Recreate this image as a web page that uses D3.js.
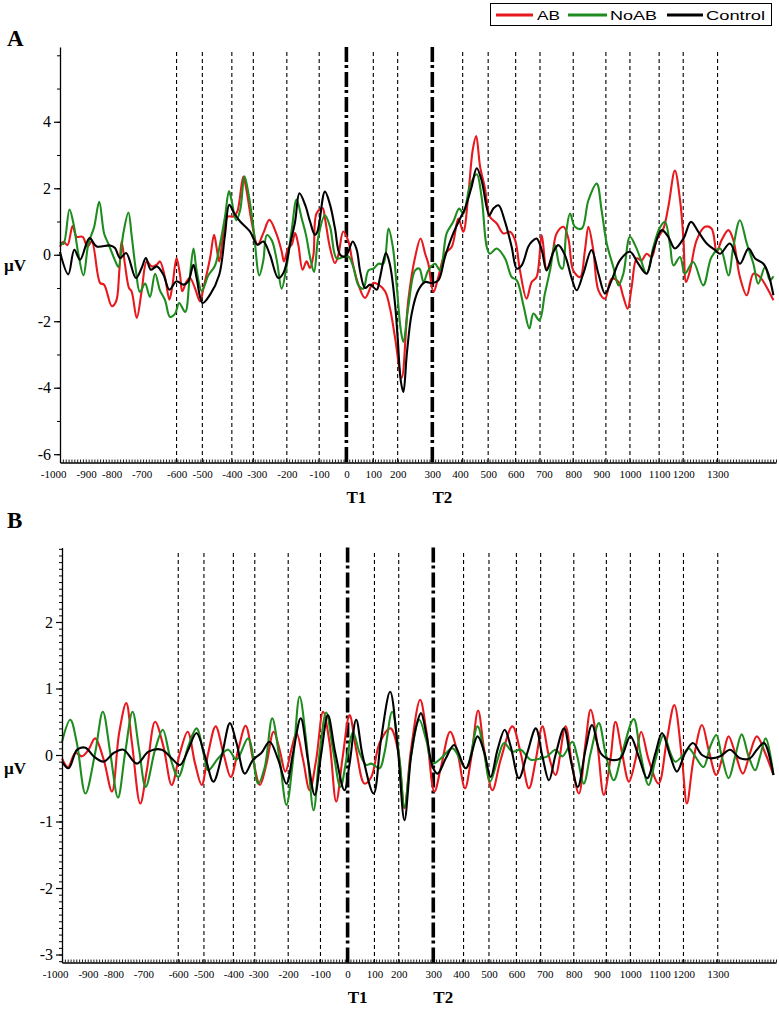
<!DOCTYPE html>
<html><head><meta charset="utf-8">
<script src="https://cdn.jsdelivr.net/npm/d3@7"></script>
<style>
body{margin:0;background:#fff;}
svg{display:block;}
.serif{font-family:"Liberation Serif","Times New Roman",serif;}
.sans{font-family:"Liberation Sans",Arial,sans-serif;}
</style></head>
<body>
<svg id="c" width="779" height="1009"></svg>
<script>
// ---------- DATA ----------
const seriesNames = ["AB", "NoAB", "Control"];
const seriesColors = ["#e8191e", "#1e8c1e", "#000000"];

// x tick labels and where they sit (ms on the linear time axis)
const tickLabels = ["-1000","-900","-800","-700","-600","-500","-400","-300","-200","-100","0","100","200","300","400","500","600","700","800","900","1000","1100","1200","1300"];
const tickPos = [-1024,-909,-820,-715,-593,-504,-400,-313,-208,-95,0,94,179,300,397,495,591,690,792,891,990,1092,1176,1296];
// stimulus markers
const thinLines = [-593,-503,-400,-325,-208,-95,94,179,406,495,591,676,792,906,990,1092,1176,1296];
const targetLines = [0,300];
const targetNames = ["T1","T2"];
const yTicksA = [-6,-4,-2,0,2,4];
const yTicksB = [-3,-2,-1,0,1,2];

// Panel A
const abA = [[-1000,0.24],[-988,0.39],[-974,0.29],[-956,0.86],[-942,0.54],[-921,0.54],[-904,0.24],[-889,0.40],[-860,-0.85],[-846,-0.90],[-819,-1.55],[-804,-1.40],[-793,-0.50],[-785,0.40],[-773,-0.30],[-759,-1.00],[-750,-1.10],[-732,-1.90],[-715,-1.10],[-697,-0.20],[-680,-0.35],[-662,-0.30],[-651,-0.20],[-633,-0.70],[-618,-1.35],[-607,-0.90],[-593,-0.10],[-581,-0.60],[-573,-1.10],[-558,-0.80],[-546,-0.70],[-529,-1.00],[-511,-1.40],[-499,-1.00],[-476,-0.10],[-462,0.60],[-453,0.20],[-444,-0.20],[-430,0.60],[-414,1.15],[-395,1.15],[-381,1.30],[-360,2.35],[-348,1.90],[-331,1.00],[-310,0.30],[-290,0.65],[-269,1.05],[-243,0.60],[-226,0.10],[-218,-0.20],[-203,0.20],[-191,0.30],[-179,0.65],[-168,0.30],[-153,-0.45],[-139,-0.20],[-127,-0.40],[-115,0.00],[-104,1.25],[-83,1.40],[-75,1.10],[-57,0.20],[-40,-0.25],[-28,0.00],[-11,0.70],[7,0.40],[22,-0.25],[42,-0.90],[65,-1.30],[94,-0.85],[112,-0.90],[135,-1.10],[152,-1.60],[170,-2.50],[193,-3.70],[216,-1.37],[240,-0.07],[259,0.49],[275,0.03],[286,-0.27],[304,-1.12],[321,-0.67],[344,0.03],[368,0.24],[391,1.09],[408,0.69],[426,1.84],[441,3.15],[453,3.57],[467,2.64],[484,1.99],[501,1.14],[525,0.94],[548,0.64],[571,0.69],[589,0.44],[606,-0.47],[629,-1.32],[647,-0.82],[664,-0.67],[682,0.59],[699,-0.42],[717,-0.07],[734,0.64],[758,0.84],[775,0.49],[792,-0.47],[816,-0.67],[833,0.14],[845,0.84],[862,0.14],[880,-1.07],[903,-1.32],[926,-0.72],[950,-0.82],[967,-1.27],[982,-1.62],[996,-0.97],[1014,-0.11],[1031,-0.17],[1048,0.03],[1066,-0.07],[1083,0.44],[1107,0.79],[1124,1.44],[1147,2.53],[1165,1.64],[1177,0.44],[1186,-0.82],[1200,-0.47],[1223,0.44],[1252,0.84],[1275,0.79],[1293,0.09],[1310,0.44],[1334,0.74],[1351,0.44],[1374,-0.67],[1398,-1.22],[1421,-0.57],[1444,-0.67],[1467,-0.97],[1491,-1.37]];
const noabA = [[-1000,0.38],[-988,0.33],[-967,1.36],[-953,0.94],[-936,0.03],[-918,-0.62],[-901,0.33],[-881,0.83],[-863,1.59],[-846,0.64],[-831,0.33],[-808,-0.17],[-796,-0.37],[-779,0.64],[-761,1.27],[-750,0.59],[-735,-0.47],[-721,-1.12],[-703,-0.87],[-686,-1.27],[-668,-0.57],[-651,-1.07],[-633,-1.37],[-616,-1.87],[-598,-1.77],[-584,-1.45],[-563,-1.72],[-548,-0.77],[-534,0.19],[-523,-0.47],[-505,-1.09],[-482,-0.62],[-459,-0.33],[-441,0.33],[-424,1.14],[-410,1.92],[-401,1.64],[-385,1.04],[-371,1.34],[-356,2.36],[-342,1.84],[-325,0.84],[-304,-0.62],[-290,-0.17],[-278,0.59],[-261,0.44],[-243,-0.17],[-226,-1.02],[-211,-0.47],[-191,0.74],[-174,1.66],[-156,1.09],[-141,0.59],[-127,-0.07],[-113,-0.52],[-98,0.54],[-75,1.19],[-57,0.84],[-34,-0.11],[-11,-0.07],[7,-0.05],[24,-0.37],[42,-0.92],[59,-1.02],[77,-0.47],[94,-0.42],[112,-0.27],[129,-0.27],[147,0.79],[162,0.24],[176,-0.97],[190,-2.27],[199,-2.62],[216,-1.57],[240,-0.47],[255,-0.42],[269,-0.82],[286,-0.47],[309,-0.27],[327,-0.47],[350,0.64],[373,0.99],[394,1.39],[408,1.24],[432,2.09],[455,2.42],[472,1.74],[490,0.24],[501,0.03],[525,0.19],[554,-0.11],[577,-0.67],[595,-0.77],[618,-1.52],[639,-2.22],[653,-1.77],[674,-1.97],[693,-1.17],[711,-0.47],[728,0.29],[744,-0.32],[755,-0.42],[767,0.64],[781,1.24],[798,0.84],[822,0.79],[845,1.64],[874,2.14],[891,1.34],[909,0.34],[932,-0.37],[950,-0.92],[967,-0.57],[990,0.54],[1008,0.29],[1025,-0.07],[1048,-0.57],[1072,0.24],[1093,0.79],[1112,0.99],[1130,0.29],[1142,-0.32],[1165,-0.07],[1182,-0.57],[1211,-0.22],[1246,-0.92],[1275,-0.07],[1305,0.19],[1334,-0.62],[1351,0.24],[1374,1.04],[1398,0.34],[1421,-0.27],[1438,-0.87],[1462,-0.37],[1479,-0.77],[1491,-0.65]];
const controlA = [[-1000,0.08],[-971,-0.59],[-950,0.15],[-930,-0.15],[-897,0.50],[-872,0.25],[-825,0.28],[-808,0.20],[-790,-0.10],[-769,0.05],[-735,-0.70],[-715,-0.40],[-700,-0.10],[-683,-0.45],[-662,-0.35],[-639,-0.60],[-618,-1.05],[-593,-0.80],[-569,-0.90],[-552,-0.80],[-534,-0.30],[-523,-0.70],[-502,-1.45],[-476,-1.20],[-444,-0.60],[-424,0.60],[-409,1.50],[-392,1.25],[-371,1.00],[-337,0.70],[-310,0.30],[-290,0.40],[-267,0.00],[-238,-0.70],[-220,-0.55],[-197,0.30],[-179,1.00],[-164,1.85],[-144,1.50],[-127,1.00],[-110,0.60],[-101,0.70],[-75,1.90],[-57,1.50],[-40,0.80],[-22,0.00],[-5,-0.05],[7,0.10],[22,0.40],[36,0.15],[48,-0.50],[65,-1.00],[83,-0.90],[106,-1.05],[117,-0.70],[138,0.05],[152,-0.30],[170,-1.50],[179,-2.50],[190,-3.80],[199,-4.13],[211,-2.98],[228,-1.77],[251,-1.07],[275,-0.82],[298,-0.85],[321,-0.77],[344,-0.07],[373,0.64],[397,1.09],[414,1.39],[437,2.04],[455,2.60],[472,2.24],[499,1.19],[513,1.39],[531,1.49],[554,0.99],[577,0.24],[595,-0.42],[612,-0.32],[635,0.24],[647,0.39],[664,0.49],[682,0.14],[699,-0.47],[723,0.09],[740,0.29],[763,-0.01],[787,-0.72],[804,-1.07],[827,-0.57],[856,0.14],[880,-0.57],[903,-1.17],[926,-0.77],[955,-0.17],[990,0.09],[1019,-0.27],[1048,-0.57],[1072,0.14],[1101,0.74],[1124,0.54],[1147,0.19],[1177,0.49],[1203,0.99],[1229,0.69],[1258,0.34],[1287,0.14],[1305,0.03],[1339,0.34],[1374,-0.27],[1404,0.19],[1427,-0.11],[1456,-0.27],[1473,-0.57],[1491,-1.22]];

// Panel B
const abB = [[-1000,-0.05],[-979,-0.18],[-953,0.03],[-930,-0.02],[-907,0.08],[-884,0.25],[-854,-0.07],[-825,-0.55],[-800,0.33],[-775,0.78],[-755,0.18],[-726,-0.73],[-703,-0.23],[-674,0.50],[-645,0.13],[-616,-0.45],[-587,0.03],[-560,0.35],[-534,-0.13],[-511,-0.45],[-488,0.03],[-462,0.43],[-435,0.03],[-409,-0.33],[-383,0.08],[-357,0.44],[-331,-0.07],[-307,-0.45],[-284,-0.13],[-259,0.35],[-238,0.08],[-218,-0.25],[-197,0.08],[-179,0.33],[-156,-0.07],[-133,-0.53],[-110,-0.07],[-86,0.65],[-63,0.18],[-40,-0.70],[-17,-0.02],[7,0.60],[30,0.08],[59,-0.43],[83,-0.33],[112,0.18],[150,0.40],[176,0.08],[199,-0.80],[222,0.08],[254,0.83],[275,0.38],[304,-0.55],[327,-0.18],[359,0.35],[385,0.03],[411,-0.50],[432,-0.07],[457,0.67],[478,0.08],[507,-0.53],[536,-0.07],[577,0.43],[606,0.03],[635,-0.50],[659,-0.07],[682,0.43],[705,-0.02],[728,-0.30],[763,0.43],[787,-0.18],[810,-0.58],[833,0.18],[851,0.68],[874,0.18],[897,-0.60],[920,-0.07],[938,0.50],[961,0.03],[985,-0.40],[1008,-0.07],[1028,0.35],[1054,-0.07],[1089,-0.43],[1118,0.23],[1144,0.75],[1171,-0.07],[1188,-0.73],[1211,-0.07],[1241,0.45],[1264,0.08],[1291,-0.30],[1316,0.03],[1334,0.28],[1357,0.03],[1384,-0.28],[1409,0.03],[1433,0.28],[1462,0.03],[1491,-0.30]];
const noabB = [[-1000,0.20],[-971,0.53],[-948,0.18],[-918,-0.58],[-884,0.03],[-857,0.65],[-831,0.03],[-804,-0.64],[-779,0.03],[-753,0.65],[-730,0.08],[-707,-0.48],[-674,0.08],[-647,0.38],[-622,-0.02],[-593,-0.33],[-558,0.13],[-529,0.40],[-502,-0.02],[-488,-0.23],[-453,-0.05],[-418,0.08],[-389,-0.07],[-348,0.25],[-313,-0.43],[-290,-0.18],[-264,0.55],[-238,-0.07],[-214,-0.75],[-191,-0.07],[-168,0.88],[-144,0.18],[-119,-0.83],[-98,0.03],[-75,0.64],[-51,0.08],[-25,-0.48],[-2,-0.02],[19,0.34],[42,0.03],[65,-0.15],[83,-0.13],[112,-0.20],[129,0.03],[156,0.65],[182,-0.07],[199,-0.78],[222,-0.02],[251,0.53],[275,0.23],[298,-0.13],[327,-0.05],[368,0.10],[414,-0.20],[455,0.43],[478,0.03],[499,-0.40],[525,-0.07],[548,0.18],[577,0.05],[606,0.08],[641,-0.07],[676,-0.05],[699,-0.02],[728,0.08],[752,-0.02],[787,0.20],[804,-0.02],[827,-0.43],[851,0.03],[880,0.48],[903,0.03],[932,-0.38],[961,0.03],[1002,0.54],[1025,0.03],[1054,-0.45],[1078,-0.07],[1107,0.30],[1130,0.03],[1147,-0.10],[1171,-0.02],[1194,0.10],[1217,-0.02],[1246,-0.18],[1270,0.13],[1291,0.30],[1310,-0.02],[1334,-0.35],[1357,-0.02],[1380,0.31],[1404,-0.02],[1427,-0.23],[1444,-0.02],[1464,0.25],[1491,-0.30]];
const controlB = [[-1000,-0.10],[-977,-0.20],[-947,0.08],[-918,0.11],[-889,-0.02],[-854,-0.10],[-819,0.03],[-785,0.08],[-738,-0.13],[-697,0.05],[-651,0.08],[-616,-0.05],[-587,-0.15],[-558,0.08],[-529,0.33],[-499,-0.02],[-470,-0.40],[-441,-0.02],[-412,0.48],[-389,0.18],[-360,-0.28],[-331,-0.07],[-302,0.03],[-273,0.20],[-243,-0.07],[-214,-0.43],[-191,0.03],[-164,0.55],[-139,-0.07],[-115,-0.60],[-92,0.03],[-69,0.60],[-43,0.03],[-11,-0.53],[7,-0.13],[30,0.53],[53,-0.02],[91,-0.58],[117,0.23],[149,0.95],[176,0.08],[199,-0.98],[222,-0.02],[240,0.43],[257,0.63],[275,0.33],[298,-0.18],[315,-0.28],[344,-0.05],[373,0.15],[414,-0.20],[455,0.28],[478,0.05],[501,-0.33],[525,0.08],[550,0.38],[571,0.13],[600,-0.35],[629,0.03],[659,0.40],[682,-0.02],[705,-0.38],[728,0.00],[758,0.40],[781,-0.07],[806,-0.48],[833,0.08],[856,0.45],[886,0.03],[921,-0.07],[955,-0.05],[990,0.28],[1019,-0.02],[1049,-0.35],[1078,0.03],[1101,0.33],[1130,-0.02],[1153,-0.25],[1182,0.03],[1209,0.18],[1241,0.00],[1270,-0.05],[1305,-0.02],[1339,0.08],[1374,-0.05],[1409,-0.05],[1433,0.08],[1458,0.18],[1491,-0.30]];

// ---------- DRAW ----------
const svg = d3.select("#c");

function panel(cfg) {
  const {x, y, series, yTicks, minorStep, letter, letterY, uvY, thinTop} = cfg;
  const g = svg.append("g");
  const y0 = y.range()[0], yTop = y.range()[1];

  // thin dashed stimulus lines
  g.selectAll(".thin").data(thinLines).enter().append("line")
    .attr("x1", d => x(d)).attr("x2", d => x(d))
    .attr("y1", thinTop).attr("y2", y0)
    .attr("stroke", "#000").attr("stroke-width", 1.1)
    .attr("stroke-dasharray", "4,3");
  // bold T1/T2 lines
  g.selectAll(".bold").data(targetLines).enter().append("line")
    .attr("x1", d => x(d)).attr("x2", d => x(d))
    .attr("y1", yTop).attr("y2", y0)
    .attr("stroke", "#000").attr("stroke-width", 3.6)
    .attr("stroke-dasharray", "15,3,3,4");

  // curves
  const line = d3.line().x(d => x(d[0])).y(d => y(d[1])).curve(d3.curveCatmullRom.alpha(0.5));
  series.forEach((s, i) => {
    g.append("path").datum(s).attr("d", line)
      .attr("fill", "none").attr("stroke", seriesColors[i])
      .attr("stroke-width", 2.1).attr("stroke-linejoin", "round");
  });

  // y axis minor
  const yMinor = d3.range(Math.ceil(y.domain()[0] / minorStep), Math.floor(y.domain()[1] / minorStep) + 1)
    .map(k => +(k * minorStep).toFixed(3));
  g.append("g").attr("transform", `translate(${x.range()[0]},0)`)
    .call(d3.axisLeft(y).tickValues(yMinor).tickSize(3).tickFormat(""))
    .call(a => a.select(".domain").remove())
    .call(a => a.selectAll("line").attr("stroke-width", 1));
  // y axis major
  const ya = g.append("g").attr("transform", `translate(${x.range()[0]},0)`)
    .call(d3.axisLeft(y).tickValues(yTicks).tickSize(6).tickSizeOuter(0).tickPadding(3).tickFormat(d => String(d)));
  ya.attr("font-family", null).attr("font-size", null);
  ya.select(".domain").attr("stroke-width", 1.3);
  ya.selectAll("line").attr("stroke-width", 1.2);
  ya.selectAll("text").attr("class", "serif").attr("font-size", 16).attr("fill", "#000");

  // x axis minor ticks
  g.append("g").attr("transform", `translate(0,${y0})`)
    .call(d3.axisTop(x).tickValues(d3.range(-1000, 1501, 10)).tickSize(3).tickFormat(""))
    .call(a => a.select(".domain").remove())
    .call(a => a.selectAll("line").attr("stroke-width", 0.9));
  // x axis labels
  const xa = g.append("g").attr("transform", `translate(0,${y0})`)
    .call(d3.axisBottom(x).tickValues(tickPos).tickSize(0).tickPadding(8)
      .tickFormat((d, i) => tickLabels[i]));
  xa.attr("font-family", null).attr("font-size", null);
  xa.select(".domain").attr("stroke-width", 1.3);
  xa.selectAll("text").attr("class", "serif").attr("font-size", 11).attr("fill", "#000");

  // T1 / T2
  g.selectAll(".tl").data(targetLines).enter().append("text")
    .attr("class", "serif")
    .attr("x", d => x(d) + 10).attr("y", y0 + 40)
    .attr("text-anchor", "middle")
    .attr("font-weight", "bold").attr("font-size", 17)
    .text((d, i) => targetNames[i]);

  // panel letter and unit
  g.append("text").attr("class", "serif").attr("x", 7).attr("y", letterY)
    .attr("font-weight", "bold").attr("font-size", 23).text(letter);
  g.append("text").attr("class", "serif").attr("x", 4).attr("y", uvY)
    .attr("font-weight", "bold").attr("font-size", 17).text("µV");
}

const xA = d3.scaleLinear().domain([-1000, 1500]).range([60, 776]);
const yA = d3.scaleLinear().domain([-6.25, 6.25]).range([462.5, 47]);
const xB = d3.scaleLinear().domain([-1000, 1500]).range([62, 776]);
const yB = d3.scaleLinear().domain([-3.12, 3.12]).range([962.5, 547.5]);

panel({x: xA, y: yA, series: [abA, noabA, controlA], yTicks: yTicksA, minorStep: 1,
  letter: "A", letterY: 46, uvY: 271, thinTop: 52});
panel({x: xB, y: yB, series: [abB, noabB, controlB], yTicks: yTicksB, minorStep: 0.1,
  letter: "B", letterY: 528, uvY: 774, thinTop: 553});

// ---------- LEGEND ----------
const lg = svg.append("g");
lg.append("rect").attr("x", 490.5).attr("y", 3.5).attr("width", 281).attr("height", 22)
  .attr("fill", "#fff").attr("stroke", "#000").attr("stroke-width", 1);
const legX = [[496, 533, 537, 23], [568, 607, 610, 47], [667, 703, 706, 59]];
seriesNames.forEach((n, i) => {
  const [l1, l2, tx, tw] = legX[i];
  lg.append("line").attr("x1", l1).attr("x2", l2).attr("y1", 15).attr("y2", 15)
    .attr("stroke", seriesColors[i]).attr("stroke-width", 3);
  lg.append("text").attr("class", "sans").attr("x", tx).attr("y", 20)
    .attr("font-size", 13)
    .attr("textLength", tw).attr("lengthAdjust", "spacingAndGlyphs").text(n);
});
</script>
</body></html>
